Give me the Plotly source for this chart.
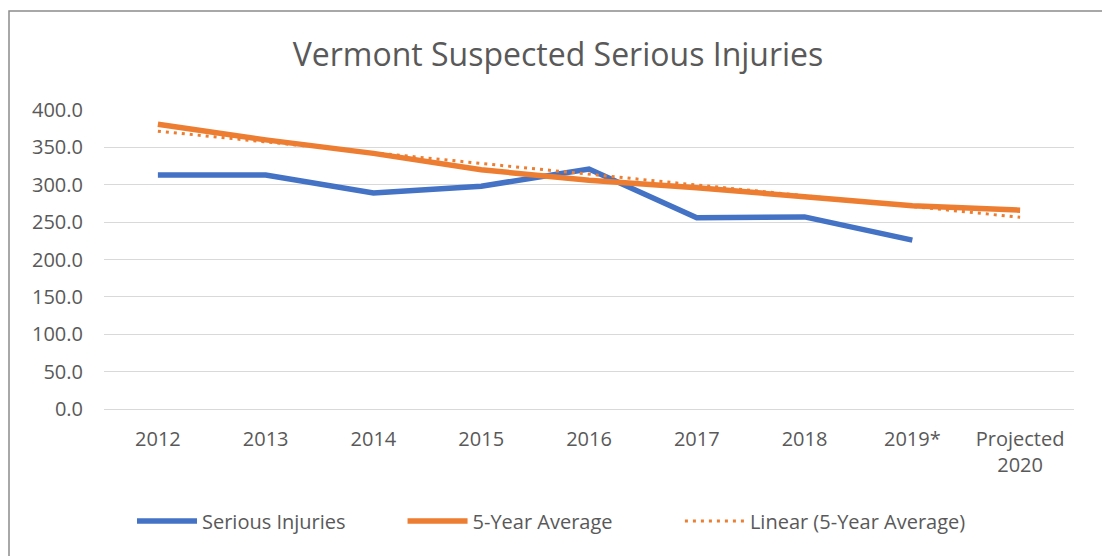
import numpy as np
import plotly.graph_objects as go

categories = ["2012", "2013", "2014", "2015", "2016", "2017", "2018", "2019*", "Projected<br>2020"]
serious_injuries = [313, 313, 289, 298, 321, 256, 257, 226, None]
five_year_avg = [381, 360, 342, 320, 306, 296, 284, 272, 266]

# Linear trendline of the 5-year average (least squares fit, as in Excel)
xi = np.arange(len(five_year_avg))
slope, intercept = np.polyfit(xi, np.array(five_year_avg, dtype=float), 1)
linear_trend = list(slope * xi + intercept)

FONT = "Open Sans"
GREY = "#595959"
NB = "\u00a0"  # non-breaking space used to space legend entries

# figure is placed at page offset (8, 8) by the default body margin
W, H = 1102, 548
L, R, T, B = 96, 36, 102, 147
PW, PH = W - L - R, H - T - B

fig = go.Figure()
fig.add_trace(go.Scatter(x=categories, y=serious_injuries, mode="lines",
                         name="Serious Injuries" + NB * 10,
                         line=dict(color="#4472C4", width=5.5)))
fig.add_trace(go.Scatter(x=categories, y=five_year_avg, mode="lines",
                         name="5-Year Average" + NB * 12,
                         line=dict(color="#ED7D31", width=5.5)))
fig.add_trace(go.Scatter(x=categories, y=linear_trend, mode="lines",
                         name="Linear (5-Year Average)",
                         line=dict(color="#ED7D31", width=3, dash="3px,5px")))

fig.update_layout(
    width=W, height=H,
    margin=dict(l=L, r=R, t=T, b=B),
    paper_bgcolor="white", plot_bgcolor="white",
    font=dict(family=FONT, color=GREY, size=20),
    title=dict(text="Vermont Suspected Serious Injuries", x=550 / W, xanchor="center",
               y=1 - 47 / H, yanchor="middle", yref="container",
               font=dict(family=FONT, size=32, color=GREY)),
    showlegend=True,
    legend=dict(orientation="h", x=(124 - L) / PW, xanchor="left",
                y=(T + PH - 513) / PH, yanchor="middle",
                font=dict(family=FONT, size=20, color=GREY), itemwidth=60,
                traceorder="normal"),
    xaxis=dict(type="category", range=[-0.5, 8.5], showgrid=False,
               showline=False, ticks="", ticklabelstandoff=16,
               tickfont=dict(size=20, color=GREY)),
    yaxis=dict(range=[0, 400], dtick=50, tickformat=".1f", showgrid=True,
               gridcolor="#D9D9D9", gridwidth=1, zeroline=True,
               zerolinecolor="#D9D9D9", zerolinewidth=1, showline=False,
               ticks="", ticklabelstandoff=20, tickfont=dict(size=20, color=GREY)),
    shapes=[dict(type="rect", xref="paper", yref="paper",
                 x0=(1 - L) / PW, x1=(1098 - L) / PW,
                 y0=(T + PH - 560) / PH, y1=(T + PH - 3) / PH,
                 line=dict(color="#8C8C8C", width=1.5), fillcolor="rgba(0,0,0,0)",
                 layer="below")],
)

fig.write_html("out.html")
